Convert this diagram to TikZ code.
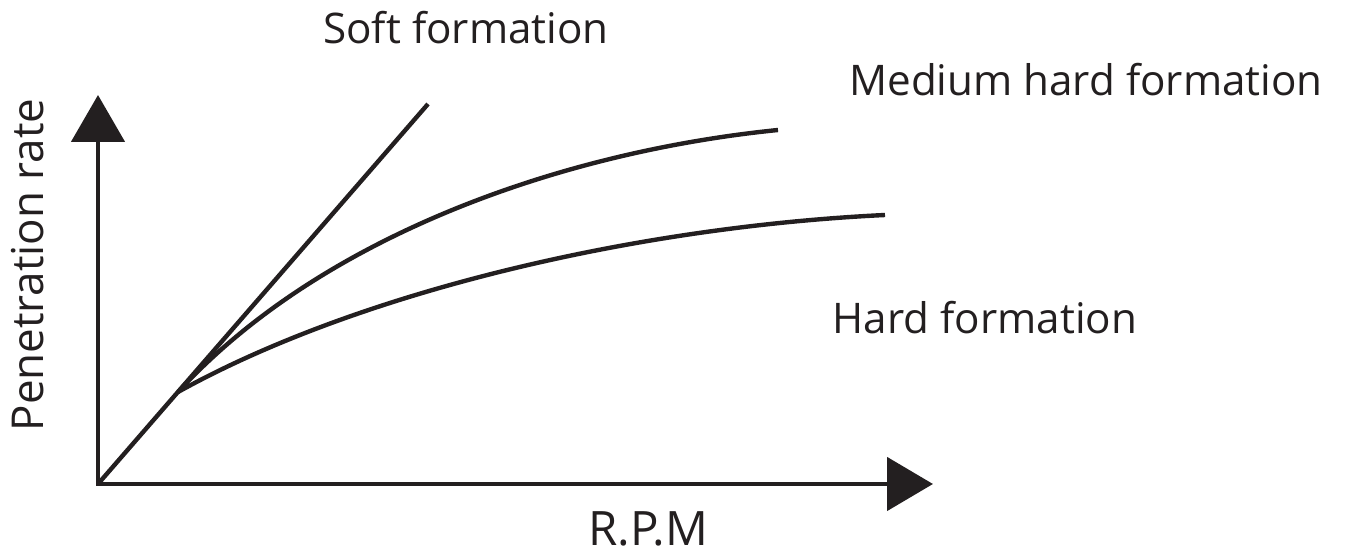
\documentclass[tikz,border=0pt]{standalone}
\usepackage{fontspec}
\setmainfont{Open Sans}
\usetikzlibrary{arrows.meta}
\definecolor{ink}{HTML}{231F20}
\begin{document}
\begin{tikzpicture}[x=0.02cm,y=0.02cm,
  axis/.style={draw=ink, line width=2.8pt, line join=miter,
    {Triangle[length=0.94cm,width=1.06cm]}-{Triangle[length=0.92cm,width=1.06cm]}},
  curve/.style={draw=ink, line width=2.5pt},
  lbl/.style={text=ink, inner sep=0pt, anchor=base, font=\fontsize{24}{28}\selectfont},
  axlbl/.style={lbl, font=\fontsize{25}{30}\selectfont}]
  \useasboundingbox (0,0) rectangle (1346,557);

  \coordinate (o) at (98,73);
  \coordinate (ytip) at (98,462);
  \coordinate (xtip) at (933,73);
  \coordinate (j) at (178,165);
  \coordinate (softend) at (428,453);
  \coordinate (medend) at (778,427);
  \coordinate (hardend) at (885,342);

  \node[lbl] (soft) at (466,513) {Soft formation};
  \node[lbl] (medium) at (1086,461) {Medium hard formation};
  \node[lbl] (hard) at (985,223) {Hard formation};
  \node[axlbl, font=\fontsize{27}{32}\selectfont] (rpm) at (648,11) {R.P.M};
  \node[axlbl, rotate=90] (rate) at (43,292) {Penetration rate};

    \draw[axis] (ytip) -- (o) -- (xtip);
    \draw[curve] (o) -- (softend);
    \draw[curve] (j) .. controls (320,320) and (560,405) .. (medend);
    \draw[curve] (j) .. controls (358,265) and (635,330) .. (hardend);

\end{tikzpicture}
\end{document}
